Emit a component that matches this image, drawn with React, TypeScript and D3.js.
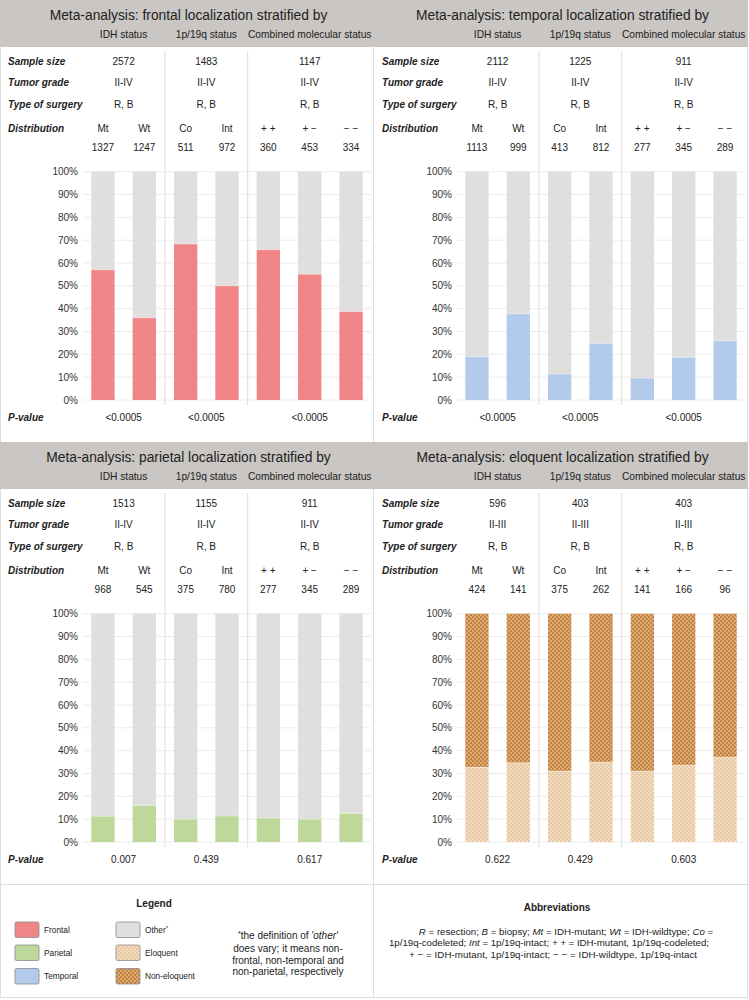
import React from "react";
import * as d3 from "d3";

const FONT = "'Liberation Sans', Arial, Helvetica, sans-serif";

// ---- data ----
const categories = ["Mt", "Wt", "Co", "Int", "+ +", "+ \u2212", "\u2212 \u2212"];
const groupLabels = ["IDH status", "1p/19q status", "Combined molecular status"];
const groupMembers = [["Mt", "Wt"], ["Co", "Int"], ["+ +", "+ \u2212", "\u2212 \u2212"]];
const yTicks = [0, 10, 20, 30, 40, 50, 60, 70, 80, 90, 100];
const rowLabels = ["Sample size", "Tumor grade", "Type of surgery", "Distribution"];

const frontalSizes = ["2572", "1483", "1147"];
const frontalGrades = ["II-IV", "II-IV", "II-IV"];
const frontalSurgery = ["R, B", "R, B", "R, B"];
const frontalCounts = [1327, 1247, 511, 972, 360, 453, 334];
const frontalPct = [57, 36, 68.3, 50, 65.8, 55.1, 38.7];
const frontalP = ["<0.0005", "<0.0005", "<0.0005"];

const temporalSizes = ["2112", "1225", "911"];
const temporalGrades = ["II-IV", "II-IV", "II-IV"];
const temporalSurgery = ["R, B", "R, B", "R, B"];
const temporalCounts = [1113, 999, 413, 812, 277, 345, 289];
const temporalPct = [19, 37.7, 11.4, 24.8, 9.6, 18.7, 26];
const temporalP = ["<0.0005", "<0.0005", "<0.0005"];

const parietalSizes = ["1513", "1155", "911"];
const parietalGrades = ["II-IV", "II-IV", "II-IV"];
const parietalSurgery = ["R, B", "R, B", "R, B"];
const parietalCounts = [968, 545, 375, 780, 277, 345, 289];
const parietalPct = [11.3, 16, 10, 11.4, 10.5, 10, 12.5];
const parietalP = ["0.007", "0.439", "0.617"];

const eloquentSizes = ["596", "403", "403"];
const eloquentGrades = ["II-III", "II-III", "II-III"];
const eloquentSurgery = ["R, B", "R, B", "R, B"];
const eloquentCounts = [424, 141, 375, 262, 141, 166, 96];
const eloquentPct = [32.7, 34.7, 31, 35, 31, 33.7, 37.2];
const eloquentP = ["0.622", "0.429", "0.603"];

// ---- colours ----
const HEADER = "#c9c6c3";
const OTHER = "#e0dfdd";
const FRONTAL = "#f08587";
const PARIETAL = "#bdd898";
const TEMPORAL = "#b3cbea";
const LINE = "#dddddd";
const GRID = "#ececec";
const TXT = "#222";

const PANEL_W = 373;
const PANEL_H = 442;
const HEADER_H = 47;

type PanelProps = {
  x0: number;
  y0: number;
  title: string;
  sizes: string[];
  grades: string[];
  surgery: string[];
  counts: number[];
  pct: number[];
  pvals: string[];
  fill: string;
  restFill: string;
};

function Panel(p: PanelProps) {
  const x = d3.scaleBand<string>().domain(categories).range([83, 371]).paddingInner(0.436).paddingOuter(0.2);
  const y = d3.scaleLinear().domain([0, 100]).range([400, 171.7]);
  const cx = (c: string) => (x(c) as number) + x.bandwidth() / 2;
  const gCenters = groupMembers.map((m) => (cx(m[0]) + cx(m[m.length - 1])) / 2);
  const gap = x.step() - x.bandwidth();
  const seps = [
    (x("Wt") as number) + x.bandwidth() + gap / 2,
    (x("Int") as number) + x.bandwidth() + gap / 2,
  ];
  const rowY = [61, 82, 104, 128];
  const rows = [p.sizes, p.grades, p.surgery];
  return (
    <g transform={`translate(${p.x0},${p.y0})`} fontFamily={FONT}>
      <rect x={0} y={0} width={PANEL_W + 1} height={HEADER_H} fill={HEADER} />
      <text x={PANEL_W / 2 + 2} y={15} dy="0.35em" textAnchor="middle" fontSize={13.8} fill={TXT}>
        {p.title}
      </text>
      {groupLabels.map((g, i) => (
        <text key={g} x={gCenters[i]} y={34.5} dy="0.35em" textAnchor="middle" fontSize={10.2} fill={TXT}>
          {g}
        </text>
      ))}
      {seps.map((s, i) => (
        <line key={i} x1={s} x2={s} y1={51} y2={405} stroke={LINE} strokeWidth={1} />
      ))}
      {rowLabels.map((r, i) => (
        <text key={r} x={8} y={rowY[i]} dy="0.35em" fontSize={10} fontWeight="bold" fontStyle="italic" fill={TXT}>
          {r}
        </text>
      ))}
      {rows.map((vals, ri) =>
        vals.map((v, gi) => (
          <text key={`${ri}-${gi}`} x={gCenters[gi]} y={rowY[ri]} dy="0.35em" textAnchor="middle" fontSize={10} fill={TXT}>
            {v}
          </text>
        ))
      )}
      {categories.map((c, i) => (
        <g key={c}>
          <text x={cx(c)} y={128} dy="0.35em" textAnchor="middle" fontSize={10} fill={TXT}>
            {c}
          </text>
          <text x={cx(c)} y={147} dy="0.35em" textAnchor="middle" fontSize={10} fill={TXT}>
            {p.counts[i]}
          </text>
        </g>
      ))}
      {yTicks.map((t) => (
        <g key={t}>
          <line x1={83} x2={371} y1={y(t)} y2={y(t)} stroke={GRID} strokeWidth={1} />
          <text x={78} y={y(t)} dy="0.35em" textAnchor="end" fontSize={10} fill="#333">
            {t}%
          </text>
        </g>
      ))}
      {categories.map((c, i) => (
        <g key={c}>
          <rect x={x(c)} y={y(100)} width={x.bandwidth()} height={y(p.pct[i]) - y(100)} fill={p.restFill} />
          <rect x={x(c)} y={y(p.pct[i])} width={x.bandwidth()} height={y(0) - y(p.pct[i])} fill={p.fill} />
          <line
            x1={x(c)}
            x2={(x(c) as number) + x.bandwidth()}
            y1={y(p.pct[i])}
            y2={y(p.pct[i])}
            stroke="#ffffff"
            strokeOpacity={0.35}
            strokeWidth={1}
          />
        </g>
      ))}
      <text x={8} y={417} dy="0.35em" fontSize={10} fontWeight="bold" fontStyle="italic" fill={TXT}>
        P-value
      </text>
      {p.pvals.map((v, i) => (
        <text key={i} x={gCenters[i]} y={417} dy="0.35em" textAnchor="middle" fontSize={10} fill={TXT}>
          {v}
        </text>
      ))}
    </g>
  );
}

const legendCol1 = [
  { label: "Frontal", fill: FRONTAL },
  { label: "Parietal", fill: PARIETAL },
  { label: "Temporal", fill: TEMPORAL },
];
const legendCol2 = [
  { label: "Other", sup: "*", fill: OTHER },
  { label: "Eloquent", sup: "", fill: "url(#eloq)" },
  { label: "Non-eloquent", sup: "", fill: "url(#noneloq)" },
];
const legendY = [922, 945, 968.5];

export default function App() {
  return (
    <svg
      width={749}
      height={1000}
      style={{ position: "absolute", left: 0, top: 0, background: "#fff" }}
      fontFamily={FONT}
    >
      <defs>
        <pattern id="eloq" width={4} height={4} patternUnits="userSpaceOnUse">
          <rect width={4} height={4} fill="#f1dcc1" />
          <rect width={2} height={2} fill="#e8c9a4" />
          <rect x={2} y={2} width={2} height={2} fill="#e8c9a4" />
        </pattern>
        <pattern id="noneloq" width={4} height={4} patternUnits="userSpaceOnUse">
          <rect width={4} height={4} fill="#dcaa74" />
          <rect width={2} height={2} fill="#c4823f" />
          <rect x={2} y={2} width={2} height={2} fill="#c4823f" />
        </pattern>
      </defs>
      <rect x={0} y={0} width={749} height={1000} fill="#fff" />
      <line x1={373.5} x2={373.5} y1={0} y2={998} stroke={LINE} />
      <line x1={0} x2={748} y1={884.5} y2={884.5} stroke={LINE} />
      <rect x={0.5} y={0.5} width={747} height={997} fill="none" stroke={LINE} />

      <Panel
        x0={0}
        y0={0}
        title="Meta-analysis: frontal localization stratified by"
        sizes={frontalSizes}
        grades={frontalGrades}
        surgery={frontalSurgery}
        counts={frontalCounts}
        pct={frontalPct}
        pvals={frontalP}
        fill={FRONTAL}
        restFill={OTHER}
      />
      <Panel
        x0={374}
        y0={0}
        title="Meta-analysis: temporal localization stratified by"
        sizes={temporalSizes}
        grades={temporalGrades}
        surgery={temporalSurgery}
        counts={temporalCounts}
        pct={temporalPct}
        pvals={temporalP}
        fill={TEMPORAL}
        restFill={OTHER}
      />
      <Panel
        x0={0}
        y0={PANEL_H}
        title="Meta-analysis: parietal localization stratified by"
        sizes={parietalSizes}
        grades={parietalGrades}
        surgery={parietalSurgery}
        counts={parietalCounts}
        pct={parietalPct}
        pvals={parietalP}
        fill={PARIETAL}
        restFill={OTHER}
      />
      <Panel
        x0={374}
        y0={PANEL_H}
        title="Meta-analysis: eloquent localization stratified by"
        sizes={eloquentSizes}
        grades={eloquentGrades}
        surgery={eloquentSurgery}
        counts={eloquentCounts}
        pct={eloquentPct}
        pvals={eloquentP}
        fill="url(#eloq)"
        restFill="url(#noneloq)"
      />

      {/* Legend */}
      <text x={154} y={903} dy="0.35em" textAnchor="middle" fontSize={10} fontWeight="bold" fill={TXT}>
        Legend
      </text>
      {legendCol1.map((l, i) => (
        <g key={l.label}>
          <rect x={15} y={legendY[i]} width={24} height={15.5} rx={1.5} fill={l.fill} stroke="#8c8c8c" strokeWidth={0.8} />
          <text x={44} y={legendY[i] + 8} dy="0.35em" fontSize={8.3} fill={TXT}>
            {l.label}
          </text>
        </g>
      ))}
      {legendCol2.map((l, i) => (
        <g key={l.label}>
          <rect x={116} y={legendY[i]} width={24} height={15.5} rx={1.5} fill={l.fill} stroke="#8c8c8c" strokeWidth={0.8} />
          <text x={145} y={legendY[i] + 8} dy="0.35em" fontSize={8.3} fill={TXT}>
            {l.label}
            {l.sup ? (
              <tspan fontSize={6} dy="-3">
                {l.sup}
              </tspan>
            ) : null}
          </text>
        </g>
      ))}
      <g fontSize={10} fill={TXT} textAnchor="middle">
        <text x={288} y={939}>
          <tspan fontSize={7} dy="-3">*</tspan>
          <tspan dy="3">the definition of </tspan>
          <tspan fontStyle="italic">'other'</tspan>
        </text>
        <text x={288} y={952}>does vary; it means non-</text>
        <text x={288} y={963.5}>frontal, non-temporal and</text>
        <text x={288} y={975}>non-parietal, respectively</text>
      </g>

      {/* Abbreviations */}
      <text x={557} y={907} dy="0.35em" textAnchor="middle" fontSize={10} fontWeight="bold" fill={TXT}>
        Abbreviations
      </text>
      <g fontSize={9.7} fill={TXT}>
        <text x={566} y={934.5} textAnchor="middle">
          <tspan fontStyle="italic">R</tspan> = resection; <tspan fontStyle="italic">B</tspan> = biopsy;{" "}
          <tspan fontStyle="italic">Mt</tspan> = IDH-mutant; <tspan fontStyle="italic">Wt</tspan> = IDH-wildtype;{" "}
          <tspan fontStyle="italic">Co</tspan> =
        </text>
        <text x={389} y={946} textLength={320} lengthAdjust="spacing">
          1p/19q-codeleted; <tspan fontStyle="italic">Int</tspan> = 1p/19q-intact;{" "}
          <tspan fontStyle="italic">+ +</tspan> = IDH-mutant, 1p/19q-codeleted;
        </text>
        <text x={409} y={957.5} textLength={288} lengthAdjust="spacing">
          <tspan fontStyle="italic">+ {"\u2212"}</tspan> = IDH-mutant, 1p/19q-intact;{" "}
          <tspan fontStyle="italic">{"\u2212 \u2212"}</tspan> = IDH-wildtype, 1p/19q-intact
        </text>
      </g>
    </svg>
  );
}
